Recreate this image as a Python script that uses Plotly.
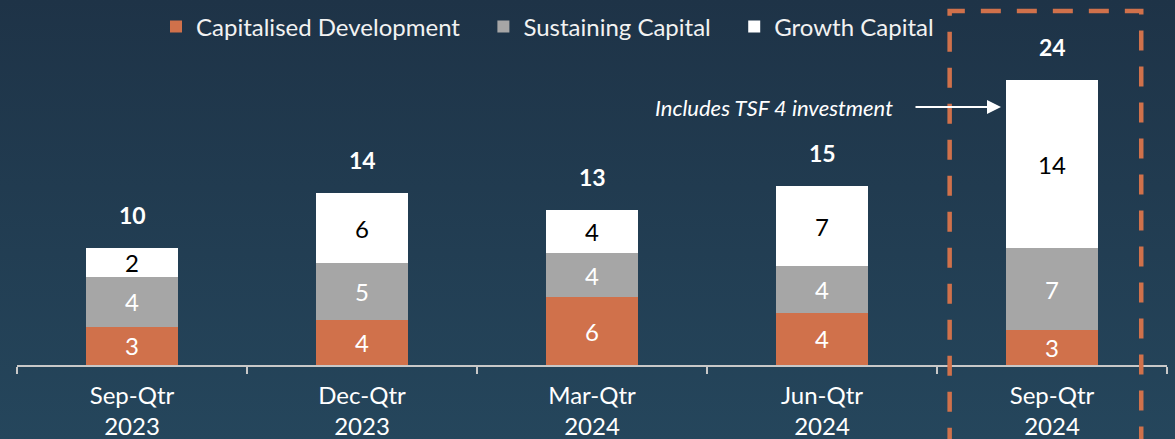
import plotly.graph_objects as go
import urllib.parse

# ---- data ----
categories = ["Sep-Qtr<br>2023", "Dec-Qtr<br>2023", "Mar-Qtr<br>2024", "Jun-Qtr<br>2024", "Sep-Qtr<br>2024"]
capitalised_development = [3.2, 3.8, 5.7, 4.4, 2.9]
sustaining_capital = [4.2, 4.8, 3.7, 3.9, 6.9]
growth_capital = [2.4, 5.8, 3.6, 6.7, 14.1]
totals = [round(a + b + c, 1) for a, b, c in zip(capitalised_development, sustaining_capital, growth_capital)]
series_names = ["Capitalised Development", "Sustaining Capital", "Growth Capital"]

ORANGE = "#D0714B"
GRAY = "#A6A6A6"
WHITE = "#FFFFFF"
FONT = "Lato"
PAD = "\u00a0" * 3

W, H = 1175, 439
ML, MR, MT, MB = 17, 8, 10, 74
plot_w = W - ML - MR
plot_h = H - MT - MB
YMAX = 29.8

fig = go.Figure()

series = [
    (series_names[0] + PAD, capitalised_development, ORANGE, "#FFFFFF"),
    (series_names[1] + PAD, sustaining_capital, GRAY, "#FFFFFF"),
    (series_names[2], growth_capital, WHITE, "#000000"),
]
for name, vals, col, tcol in series:
    fig.add_trace(go.Bar(
        name=name, x=categories, y=vals,
        marker=dict(color=col, line=dict(width=0)),
        width=0.4,
        texttemplate="%{y:.0f}", textposition="inside", insidetextanchor="middle",
        textangle=0, constraintext="none",
        textfont=dict(family=FONT, size=24, color=tcol),
        hoverinfo="skip",
    ))

# total labels
for cat, tot in zip(categories, totals):
    fig.add_annotation(x=cat, y=tot, text=f"<b>{tot:.0f}</b>", showarrow=False,
                       yanchor="bottom", yshift=17,
                       font=dict(family=FONT, size=23, color="#FFFFFF"))

# background gradient
svg = ("<svg xmlns='http://www.w3.org/2000/svg' width='100' height='100' preserveAspectRatio='none'>"
       "<defs><linearGradient id='g' x1='0' y1='0' x2='0' y2='1'>"
       "<stop offset='0' stop-color='#1e3347'/><stop offset='1' stop-color='#25465c'/>"
       "</linearGradient></defs><rect width='100' height='100' fill='url(#g)'/></svg>")
src = "data:image/svg+xml;charset=utf-8," + urllib.parse.quote(svg)
fig.add_layout_image(dict(source=src, xref="paper", yref="paper",
                          x=-ML / plot_w, y=1 + MT / plot_h,
                          sizex=W / plot_w, sizey=H / plot_h,
                          sizing="stretch", xanchor="left", yanchor="top", layer="below"))

# dashed highlight box
fig.add_shape(type="rect", xref="x", yref="paper",
              x0=3.555, x1=4.388, y0=-0.4, y1=1 + (MT - 11) / plot_h,
              line=dict(color=ORANGE, width=4.5, dash="20px,16px"),
              fillcolor="rgba(0,0,0,0)", layer="above")

# arrow + note
arrow_y = (365 - 107) / plot_h * YMAX
fig.add_annotation(x=3.8, y=arrow_y, xref="x", yref="y", ax=-92, ay=0,
                   text="", showarrow=True, arrowhead=2, arrowsize=1.4, arrowwidth=2,
                   arrowcolor="#FFFFFF", standoff=5)
fig.add_annotation(x=3.8, y=arrow_y, xref="x", yref="y", xshift=-111, xanchor="right",
                   text="<i>Includes TSF 4 investment</i>", showarrow=False,
                   font=dict(family=FONT, size=22, color="#FFFFFF"))

fig.update_layout(
    width=W, height=H,
    margin=dict(l=ML, r=MR, t=MT, b=MB, autoexpand=False),
    paper_bgcolor="#213a50", plot_bgcolor="rgba(0,0,0,0)",
    barmode="stack", bargap=0.6,
    showlegend=True,
    legend=dict(orientation="h", x=(156 - ML) / plot_w, xanchor="left",
                y=1 - (27 - MT) / plot_h, yanchor="middle",
                font=dict(family=FONT, size=24, color="#F2F2F2"),
                bgcolor="rgba(0,0,0,0)", itemwidth=30, tracegroupgap=0,
                traceorder="normal"),
    xaxis=dict(showgrid=False, showline=True, linecolor="#C8C8C8", linewidth=2,
               ticks="outside", tickson="boundaries", ticklen=7, tickcolor="#C8C8C8", tickwidth=2,
               ticklabelstandoff=8, automargin=False,
               tickfont=dict(family=FONT, size=24, color="#FFFFFF"), zeroline=False),
    yaxis=dict(range=[0, YMAX], visible=False, showgrid=False, zeroline=False, automargin=False),
    font=dict(family=FONT),
)

fig.write_html("out.html", config={"displayModeBar": False},
               post_script="document.body.style.margin='0';document.body.style.overflow='hidden';")
